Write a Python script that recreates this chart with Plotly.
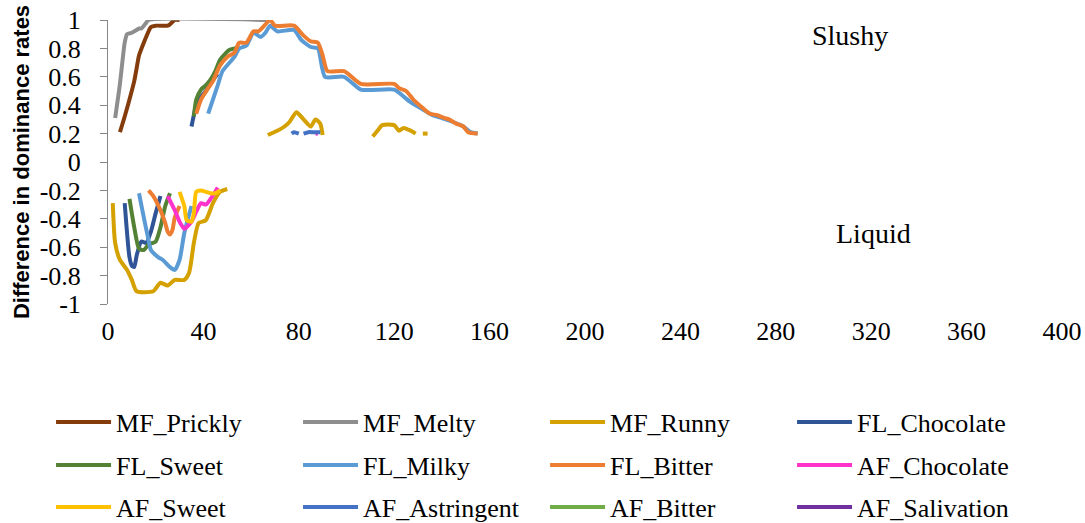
import plotly.graph_objects as go

# ---- data: difference in dominance rates over time (s) ----
# each series may have several separate stretches (None breaks the line)
mf_prickly_x = [5, 7, 9, 11, 12, 13, 15, 16, 18, 20, 25, 26, 28, 30]
mf_prickly_y = [0.21, 0.32, 0.44, 0.57, 0.66, 0.75, 0.84, 0.88, 0.95, 0.96, 0.96, 0.97, 1.0, 1.0]

mf_melty_x = [3, 5, 6, 7, 8, 10, 12, 13, 14, 16, 17, 68]
mf_melty_y = [0.31, 0.55, 0.70, 0.84, 0.90, 0.91, 0.93, 0.94, 0.94, 0.98, 1.0, 1.0]

mf_runny_x = [2, 3, 5, 8, 10, 12, 19, 22, 25, 28, 32, 34, 36, 38, 41, 44, 47, 50, None,
              67, 71, 74, 76, 79, 82, 85, 87, 89, 90, None,
              111, 113, 115, 120, 122, 124, 127, 129, None,
              132, 134]
mf_runny_y = [-0.29, -0.57, -0.69, -0.76, -0.83, -0.91, -0.91, -0.85, -0.87, -0.83, -0.83, -0.78,
              -0.57, -0.43, -0.41, -0.29, -0.21, -0.19, None,
              0.19, 0.22, 0.25, 0.28, 0.35, 0.30, 0.25, 0.30, 0.27, 0.19, None,
              0.18, 0.22, 0.26, 0.26, 0.22, 0.24, 0.22, 0.20, None,
              0.20, 0.20]

fl_chocolate_x = [7, 9, 10, 11, 12, 14, 16, 18, 20, 22, None,
                  35, 36, 37, 39, 41, 43, 45, 46]
fl_chocolate_y = [-0.29, -0.67, -0.73, -0.74, -0.66, -0.56, -0.57, -0.49, -0.36, -0.24, None,
                  0.25, 0.33, 0.40, 0.46, 0.50, 0.55, 0.60, 0.62]

fl_sweet_x = [9, 11, 13, 15, 17, 20, 22, 24, 26, None,
              36, 37, 39, 41, 43, 45, 47, 49, 51, 53, 55]
fl_sweet_y = [-0.26, -0.46, -0.61, -0.62, -0.58, -0.56, -0.46, -0.31, -0.22, None,
              0.32, 0.44, 0.51, 0.54, 0.58, 0.64, 0.72, 0.76, 0.79, 0.80, 0.80]

fl_milky_x = [13, 15, 17, 18, 21, 23, 26, 28, 30, 32, 35, None,
              42, 46, 48, 53, 55, 58, 61, 64, 66, 68, 71, 78, 81, 85, 88, 91, 99, 106,
              120, 124, 127, 132, 136, 140, 145, 149, 152, 155]
fl_milky_y = [-0.22, -0.39, -0.55, -0.62, -0.67, -0.69, -0.74, -0.76, -0.69, -0.50, -0.31, None,
              0.34, 0.54, 0.64, 0.74, 0.80, 0.82, 0.91, 0.88, 0.91, 0.96, 0.92, 0.93, 0.86, 0.81,
              0.80, 0.60, 0.60, 0.51, 0.51, 0.46, 0.42, 0.37, 0.33, 0.31, 0.28, 0.25, 0.21, 0.20]

fl_bitter_x = [17, 19, 22, 24, 25, 26, 27, 28, 30, None,
               37, 39, 42, 44, 47, 50, 53, 55, 58, 61, 63, 65, 68, 70, 78, 82, 85, 88, 90, 92,
               99, 106, 120, 122, 125, 128, 132, 135, 138, 141, 143, 146, 149, 151, 155]
fl_bitter_y = [-0.20, -0.24, -0.34, -0.43, -0.49, -0.51, -0.48, -0.39, -0.31, None,
               0.34, 0.44, 0.52, 0.57, 0.68, 0.74, 0.77, 0.84, 0.84, 0.92, 0.92, 0.95, 1.0, 0.96,
               0.96, 0.89, 0.85, 0.84, 0.75, 0.64, 0.64, 0.55, 0.55, 0.52, 0.50, 0.44, 0.38,
               0.34, 0.33, 0.31, 0.30, 0.27, 0.25, 0.21, 0.20]

af_chocolate_x = [25, 28, 30, 32, 35, 37, 39, 41, 43, 45, 46, None, 87, 88]
af_chocolate_y = [-0.24, -0.34, -0.42, -0.47, -0.42, -0.35, -0.29, -0.30, -0.26, -0.21, -0.18,
                  None, 0.20, 0.20]

af_sweet_x = [30, 32, 33, 35, 36, 37, 39, 41, 43, 45, 47]
af_sweet_y = [-0.21, -0.31, -0.41, -0.42, -0.36, -0.21, -0.20, -0.21, -0.22, -0.22, -0.20]

af_astringent_x = [77, 78, 80, None, 82, 84, 86, 89]
af_astringent_y = [0.20, 0.21, 0.20, None, 0.20, 0.21, 0.21, 0.21]

# no stretch above the 0.2 threshold for these two attributes
af_bitter_x = [0]
af_bitter_y = [None]

af_salivation_x = [0]
af_salivation_y = [None]

x_ticks = list(range(0, 401, 40))
y_ticks = [1, 0.8, 0.6, 0.4, 0.2, 0, -0.2, -0.4, -0.6, -0.8, -1]
y_tick_text = ["1", "0.8", "0.6", "0.4", "0.2", "0", "-0.2", "-0.4", "-0.6", "-0.8", "-1"]

series = [
    ("MF_Prickly", mf_prickly_x, mf_prickly_y, "#843C0C", "legend"),
    ("MF_Melty", mf_melty_x, mf_melty_y, "#8E8E8E", "legend"),
    ("MF_Runny", mf_runny_x, mf_runny_y, "#D4A100", "legend"),
    ("FL_Chocolate", fl_chocolate_x, fl_chocolate_y, "#2F5597", "legend"),
    ("FL_Sweet", fl_sweet_x, fl_sweet_y, "#548235", "legend2"),
    ("FL_Milky", fl_milky_x, fl_milky_y, "#5B9BD5", "legend2"),
    ("FL_Bitter", fl_bitter_x, fl_bitter_y, "#ED7D31", "legend2"),
    ("AF_Chocolate", af_chocolate_x, af_chocolate_y, "#FF33CC", "legend2"),
    ("AF_Sweet", af_sweet_x, af_sweet_y, "#FFC000", "legend3"),
    ("AF_Astringent", af_astringent_x, af_astringent_y, "#4472C4", "legend3"),
    ("AF_Bitter", af_bitter_x, af_bitter_y, "#70AD47", "legend3"),
    ("AF_Salivation", af_salivation_x, af_salivation_y, "#7030A0", "legend3"),
]

SERIF = "Liberation Serif, serif"
AXIS_GREY = "#868686"

fig = go.Figure()
for name, xs, ys, color, leg in series:
    fig.add_trace(go.Scatter(
        x=xs, y=ys, name=name, mode="lines",
        line=dict(color=color, width=4, shape="spline", smoothing=0.6),
        connectgaps=False, legend=leg,
    ))

legend_common = dict(
    orientation="h", xanchor="left", yanchor="middle",
    entrywidth=177, entrywidthmode="pixels", itemwidth=55,
    font=dict(family=SERIF, size=26, color="#000000"),
    bgcolor="rgba(0,0,0,0)", tracegroupgap=0,
)

fig.update_layout(
    width=1085, height=523,
    margin=dict(l=108, r=23, t=20, b=219, autoexpand=False),
    paper_bgcolor="white", plot_bgcolor="white",
    showlegend=True,
    legend=dict(x=-0.0597, y=-0.4155, **legend_common),
    legend2=dict(x=-0.0597, y=-0.567, **legend_common),
    legend3=dict(x=-0.0597, y=-0.715, **legend_common),
    xaxis=dict(
        range=[0, 400], tickvals=x_ticks, ticks="", showline=False,
        showgrid=False, zeroline=False, ticklabelstandoff=9,
        tickfont=dict(family=SERIF, size=26, color="#000000"),
    ),
    xaxis2=dict(
        overlaying="x", matches="x", range=[0, 400], anchor="free", position=0.5,
        side="bottom", tick0=0, dtick=10, ticks="outside", ticklen=6,
        tickcolor=AXIS_GREY, showticklabels=False, showline=True,
        linecolor=AXIS_GREY, linewidth=1, showgrid=False, zeroline=False,
    ),
    yaxis=dict(
        range=[-1, 1], tickvals=y_ticks, ticktext=y_tick_text,
        ticks="outside", ticklen=7, tickcolor=AXIS_GREY,
        showline=True, linecolor=AXIS_GREY, linewidth=1,
        showgrid=False, zeroline=False, ticklabelstandoff=14,
        tickfont=dict(family=SERIF, size=26, color="#000000"),
        title=dict(text="Difference in dominance rates", standoff=3,
                   font=dict(family="Liberation Sans, sans-serif", size=22,
                             color="#000000", weight="bold")),
    ),
    annotations=[
        dict(x=311, y=0.89, xref="x", yref="y", text="Slushy", showarrow=False,
             font=dict(family=SERIF, size=28, color="#000000")),
        dict(x=321, y=-0.5, xref="x", yref="y", text="Liquid", showarrow=False,
             font=dict(family=SERIF, size=28, color="#000000")),
    ],
)

fig.write_html("out.html")
